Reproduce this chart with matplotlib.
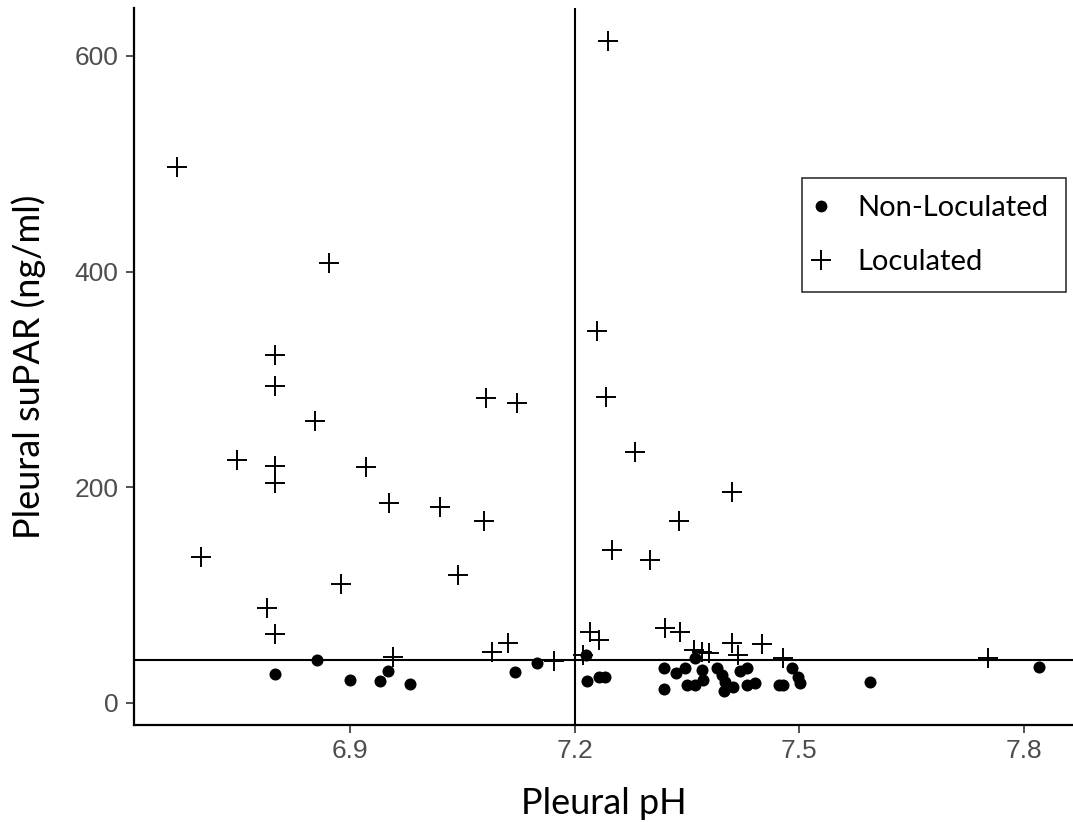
import matplotlib
matplotlib.use("Agg")
import matplotlib.pyplot as plt
from matplotlib.lines import Line2D

# Non-Loculated (dots)
nonloc_ph = [6.80, 6.855, 6.90, 6.94, 6.95, 6.98, 7.12, 7.15, 7.215, 7.216,
             7.232, 7.241, 7.32, 7.32, 7.336, 7.348, 7.35, 7.361, 7.361, 7.37,
             7.372, 7.39, 7.397, 7.401, 7.399, 7.412, 7.421, 7.43, 7.43, 7.441,
             7.473, 7.479, 7.49, 7.499, 7.501, 7.595, 7.821]
nonloc_supar = [26.7, 39.7, 21, 20, 29.8, 17.4, 28.9, 37.2, 44, 20.5,
                24.2, 23.6, 32, 12.8, 27.4, 32, 16.5, 16.5, 41, 30.4,
                21, 32, 25.8, 19.6, 10.9, 15, 29, 32, 16.5, 18,
                16.5, 16.5, 32, 24.2, 18, 19.6, 33]

# Loculated (plus)
loc_ph = [7.244, 6.669, 6.871, 6.80, 6.80, 6.853, 6.749, 6.80, 6.80, 6.921,
          6.952, 7.02, 7.082, 7.123, 7.079, 7.044, 6.887, 6.70, 6.789, 6.80,
          7.09, 7.111, 7.173, 6.957, 7.211, 7.230, 7.242, 7.25, 7.28, 7.30,
          7.34, 7.41, 7.221, 7.232, 7.321, 7.341, 7.359, 7.370, 7.380, 7.410,
          7.418, 7.450, 7.479, 7.753]
loc_supar = [614, 497, 408, 322.6, 293.8, 261, 225, 219.6, 204, 218.6,
             185, 181.6, 282.6, 278, 168.6, 118.6, 110, 135, 87.5, 63.6,
             47, 55.5, 38.8, 42, 44, 344.6, 283.6, 141.6, 232.6, 132.5,
             168.6, 195.5, 65.7, 58, 69, 66, 49, 47.4, 46, 55,
             44, 54, 41, 41.6]

ph_cutoff = 7.2
supar_cutoff = 40
x_ticks = [6.9, 7.2, 7.5, 7.8]
y_ticks = [0, 200, 400, 600]

title_font = ["Lato", "DejaVu Sans"]
tick_font = ["Liberation Sans", "DejaVu Sans"]

fig = plt.figure(figsize=(10.73, 8.22), dpi=100)
ax = fig.add_axes([134/1073, 97/822, 939/1073, 716.5/822])

ax.axvline(ph_cutoff, color="black", lw=1.5, zorder=1)
ax.axhline(supar_cutoff, color="black", lw=1.5, zorder=1)

ax.scatter(nonloc_ph, nonloc_supar, s=75, color="black", marker="o",
           linewidths=0, zorder=3)
ax.plot(loc_ph, loc_supar, linestyle="none", marker="+", markersize=14,
        markeredgewidth=1.4, color="black", zorder=3)

ax.set_xlim(6.611, 7.866)
ax.set_ylim(-20.7, 644)
ax.set_xticks(x_ticks)
ax.set_xticklabels([str(t) for t in x_ticks])
ax.set_yticks(y_ticks)
ax.set_yticklabels([str(t) for t in y_ticks])

for s in ["top", "right"]:
    ax.spines[s].set_visible(False)
for s in ["left", "bottom"]:
    ax.spines[s].set_linewidth(1.6)
    ax.spines[s].set_color("black")

ax.tick_params(axis="both", length=6, width=1.2, color="#333333",
               labelcolor="#4D4D4D", labelsize=19, pad=4)
ax.tick_params(axis="y", pad=5)
for lab in ax.get_xticklabels() + ax.get_yticklabels():
    lab.set_family(tick_font)

ax.set_xlabel("Pleural pH", fontsize=26, family=title_font, labelpad=17)
ax.set_ylabel("Pleural suPAR (ng/ml)", fontsize=26, family=title_font, labelpad=21)

handles = [
    Line2D([], [], linestyle="none", marker="o", markersize=8.5, color="black",
           markeredgewidth=0),
    Line2D([], [], linestyle="none", marker="+", markersize=15,
           markeredgewidth=1.4, color="black"),
]
leg = ax.legend(handles, ["Non-Loculated", "Loculated"], loc="upper left",
                bbox_to_anchor=(0.711, 0.764), borderaxespad=0,
                frameon=True, fancybox=False, edgecolor="black",
                prop={"family": title_font, "size": 21}, handletextpad=1.15,
                handlelength=0.15, borderpad=0.6, labelspacing=0.95)
leg.get_frame().set_linewidth(1.2)

fig.savefig("out.png", dpi=100)
